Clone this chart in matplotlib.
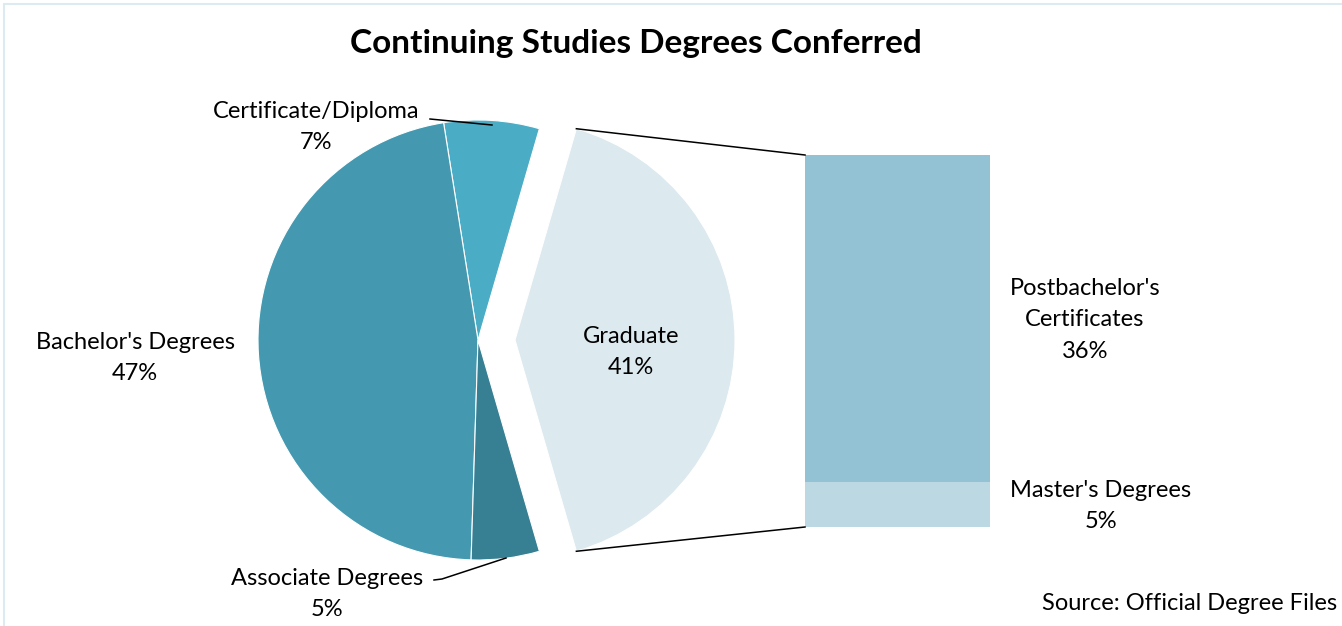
import matplotlib
matplotlib.use("Agg")
import matplotlib.pyplot as plt
import numpy as np
from matplotlib.patches import Rectangle

# Data
pie_labels = ["Graduate", "Certificate/Diploma", "Bachelor's Degrees", "Associate Degrees"]
pie_values = [41, 7, 47, 5]
pie_colors = ["#DCE9EF", "#4BACC6", "#4499B0", "#377F93"]
bar_labels = ["Master's Degrees", "Postbachelor's\nCertificates"]
bar_values = [5, 36]
bar_colors = ["#BCD8E3", "#92C2D4"]
title = "Continuing Studies Degrees Conferred"
source = "Source: Official Degree Files"

plt.rcParams['font.family'] = ['Lato', 'DejaVu Sans']

W, H = 1342, 626
fig = plt.figure(figsize=(W / 100, H / 100), dpi=100)
ax = fig.add_axes([0, 0, 1, 1])

# border
fig.patches.append(Rectangle((4 / W, -0.01), 1.1, (H - 4) / H + 0.01, transform=fig.transFigure,
                             fill=False, edgecolor="#DCEBF1", linewidth=1.5))

# Pie
cx, cy, r = 478, H - 340, 220
start = -pie_values[0] / 100 * 360 / 2
wedges, _ = ax.pie(pie_values, colors=pie_colors, startangle=start, counterclock=True,
                   center=(cx, cy), radius=r, explode=[37, 0, 0, 0],
                   wedgeprops=dict(edgecolor='white', linewidth=0.8), frame=True)
ax.set_xlim(0, W)
ax.set_ylim(0, H)
ax.set_aspect('equal')
ax.axis('off')

g = wedges[0]
gc = g.center
t1, t2 = np.deg2rad(g.theta1), np.deg2rad(g.theta2)
top_pt = (gc[0] + r * np.cos(t2), gc[1] + r * np.sin(t2))
bot_pt = (gc[0] + r * np.cos(t1), gc[1] + r * np.sin(t1))

# Bar
bx, bw = 805, 185
scale = 372 / sum(bar_values)
bottom = H - 527
bar_bottoms = []
for v, c in zip(bar_values, bar_colors):
    ax.bar(bx, v * scale, width=bw, bottom=bottom, color=c, align='edge', linewidth=0)
    bar_bottoms.append(bottom)
    bottom += v * scale
bar_top = bottom

ax.plot([top_pt[0], bx], [top_pt[1], bar_top], color='black', lw=1.1)
ax.plot([bot_pt[0], bx], [bot_pt[1], bar_bottoms[0]], color='black', lw=1.1)

fs = 17
ls = 1.6
# labels
ax.text(631, H - 352, f"{pie_labels[0]}\n{pie_values[0]}%", ha='center', va='center', fontsize=fs, linespacing=ls)
ax.text(316, H - 127, f"{pie_labels[1]}\n{pie_values[1]}%", ha='center', va='center', fontsize=fs, linespacing=ls)
ax.text(135, H - 358, f"{pie_labels[2]}\n{pie_values[2]}%", ha='center', va='center', fontsize=fs, linespacing=ls)
ax.text(327, H - 594, f"{pie_labels[3]}\n{pie_values[3]}%", ha='center', va='center', fontsize=fs, linespacing=ls)
ax.text(1101, H - 506, f"{bar_labels[0]}\n{bar_values[0]}%", ha='center', va='center', fontsize=fs, linespacing=ls)
ax.text(1085, H - 320, f"{bar_labels[1]}\n{bar_values[1]}%", ha='center', va='center', fontsize=fs, linespacing=ls)

# leader lines
ax.plot([430, 492], [H - 119, H - 125], color='black', lw=1.1)
ax.plot([434, 442, 506], [H - 580, H - 579, H - 558], color='black', lw=1.1)

ax.text(636, H - 43, title, ha='center', va='center', fontsize=24, fontweight='bold')
ax.text(1337, H - 604, source, ha='right', va='center', fontsize=17)

fig.savefig("out.png", dpi=100)
